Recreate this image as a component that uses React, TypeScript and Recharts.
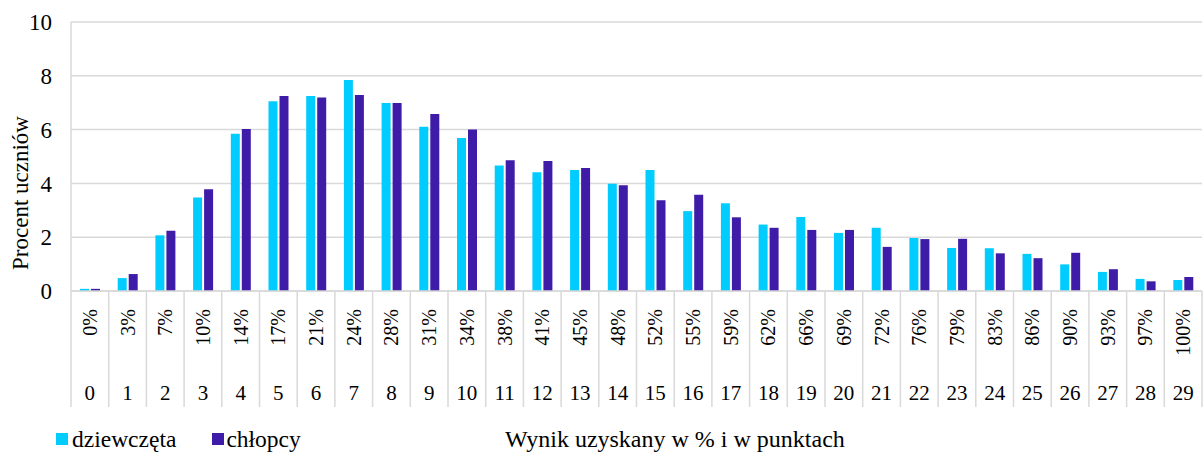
import { BarChart, Bar, XAxis, YAxis, CartesianGrid } from "recharts";

const points = [
  "0", "1", "2", "3", "4", "5", "6", "7", "8", "9",
  "10", "11", "12", "13", "14", "15", "16", "17", "18", "19",
  "20", "21", "22", "23", "24", "25", "26", "27", "28", "29",
];
const percents = [
  "0%", "3%", "7%", "10%", "14%", "17%", "21%", "24%", "28%", "31%",
  "34%", "38%", "41%", "45%", "48%", "52%", "55%", "59%", "62%", "66%",
  "69%", "72%", "76%", "79%", "83%", "86%", "90%", "93%", "97%", "100%",
];
const girls = [
  0.08, 0.48, 2.07, 3.48, 5.85, 7.05, 7.25, 7.84, 6.99, 6.11,
  5.69, 4.67, 4.41, 4.5, 3.99, 4.5, 2.97, 3.26, 2.47, 2.75,
  2.16, 2.35, 1.97, 1.6, 1.59, 1.38, 0.99, 0.71, 0.45, 0.41,
];
const boys = [
  0.08, 0.63, 2.24, 3.78, 6.02, 7.25, 7.19, 7.29, 6.99, 6.58,
  6.0, 4.86, 4.83, 4.57, 3.93, 3.37, 3.58, 2.74, 2.35, 2.27,
  2.27, 1.64, 1.93, 1.94, 1.4, 1.22, 1.42, 0.81, 0.36, 0.52,
];
const yTicks = [0, 2, 4, 6, 8, 10];

const data = points.map((p, i) => ({
  name: p,
  pct: percents[i],
  dziewczeta: girls[i],
  chlopcy: boys[i],
}));

const FONT = '"Liberation Serif", "Times New Roman", serif';
const GIRLS = "#00CCFF";
const BOYS = "#3F1CA8";
const GRID = "#d9d9d9";

// plot area
const LEFT = 71;
const RIGHT = 1202;
const BAND = (RIGHT - LEFT) / points.length;

function CategoryTick(props: any) {
  const { x, y, payload, index } = props;
  const left = x - BAND / 2;
  return (
    <g>
      <line x1={left} y1={y} x2={left} y2={y + 116} stroke={GRID} strokeWidth={1.5} />
      {index === points.length - 1 && (
        <line x1={left + BAND} y1={y} x2={left + BAND} y2={y + 116} stroke={GRID} strokeWidth={1.5} />
      )}
      <text
        x={x}
        y={y + 18}
        transform={`rotate(-90, ${x}, ${y + 18})`}
        textAnchor="end"
        dy="0.35em"
        fontFamily={FONT}
        fontSize={20}
        fill="#000"
      >
        {percents[index]}
      </text>
      <text x={x} y={y + 109} textAnchor="middle" fontFamily={FONT} fontSize={21} fill="#000">
        {payload.value}
      </text>
    </g>
  );
}

export default function App() {
  return (
    <div style={{ position: "absolute", left: 0, top: 0, width: 1204, height: 452, background: "#fff", fontFamily: FONT }}>
      <BarChart
        width={1204}
        height={452}
        data={data}
        margin={{ top: 22, right: 2, left: 0, bottom: 0 }}
        barSize={9}
        barGap={2}
      >
        <CartesianGrid vertical={false} stroke={GRID} strokeWidth={1.5} />
        <XAxis
          dataKey="name"
          height={161}
          interval={0}
          tickSize={0}
          tickMargin={0}
          tickLine={false}
          axisLine={{ stroke: GRID, strokeWidth: 1.5 }}
          tick={<CategoryTick />}
        />
        <YAxis
          width={71}
          domain={[0, 10]}
          ticks={yTicks}
          tickSize={0}
          tickMargin={19}
          tickLine={false}
          axisLine={{ stroke: GRID, strokeWidth: 1.5 }}
          tick={{ fontFamily: FONT, fontSize: 23, fill: "#000" }}
          label={{
            content: () => (
              <text
                x={20}
                y={193}
                transform="rotate(-90, 20, 193)"
                textAnchor="middle"
                dy="0.35em"
                fontFamily={FONT}
                fontSize={23}
                fill="#000"
              >
                Procent uczniów
              </text>
            ),
          }}
        />
        <Bar dataKey="dziewczeta" fill={GIRLS} isAnimationActive={false} />
        <Bar dataKey="chlopcy" fill={BOYS} isAnimationActive={false} />
      </BarChart>
      <div style={{ position: "absolute", left: 56, top: 426, fontSize: 23.5, lineHeight: "26px", display: "flex", alignItems: "center", whiteSpace: "nowrap" }}>
        <span style={{ width: 12, height: 12, background: GIRLS, display: "inline-block", marginRight: 4 }} />
        <span>dziewczęta</span>
        <span style={{ width: 12, height: 12, background: BOYS, display: "inline-block", marginLeft: 36, marginRight: 2 }} />
        <span>chłopcy</span>
      </div>
      <div style={{ position: "absolute", left: 505, top: 426, fontSize: 24, lineHeight: "26px", whiteSpace: "nowrap" }}>
        Wynik uzyskany w % i w punktach
      </div>
    </div>
  );
}
